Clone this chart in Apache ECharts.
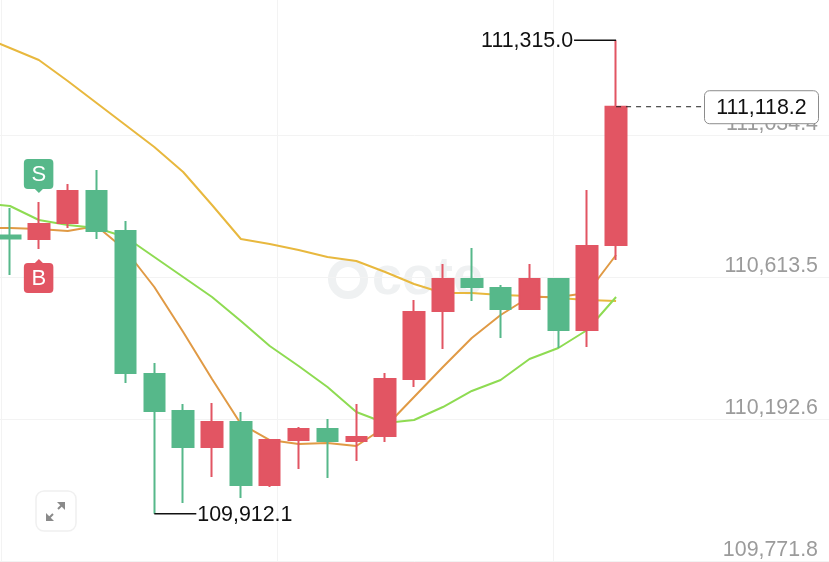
<!DOCTYPE html>
<html>
<head>
<meta charset="utf-8">
<script src="https://cdn.jsdelivr.net/npm/echarts@6/dist/echarts.min.js"></script>
<style>
html,body{margin:0;padding:0;background:#fff;}
#main{width:829px;height:562px;}
</style>
</head>
<body>
<div id="main"></div>
<script>
// bar numbers, the first line point sits one bar before the first candle
var bars = [0,1,2,3,4,5,6,7,8,9,10,11,12,13,14,15,16,17,18,19,20,21];
var lineBars = [-1,0,1,2,3,4,5,6,7,8,9,10,11,12,13,14,15,16,17,18,19,20,21];

// open, close, low, high
var candles = [
    [110736.5,110727.6,110619.5,110818.0],
    [110726.2,110770.6,110696.5,110835.8],
    [110773.6,110868.4,110758.8,110889.2],
    [110868.4,110749.9,110726.2,110930.7],
    [110749.9,110329.0,110299.4,110779.5],
    [110326.1,110216.4,109912.1,110358.7],
    [110216.4,110109.7,109943.7,110237.1],
    [110109.7,110183.8,110020.8,110240.1],
    [110183.8,109997.1,109958.5,110213.4],
    [109997.1,110130.4,109991.1,110130.4],
    [110130.4,110163.0,110044.5,110169.0],
    [110163.0,110127.5,110017.8,110192.7],
    [110127.5,110139.3,110068.2,110237.1],
    [110142.3,110311.2,110124.5,110329.0],
    [110311.2,110509.8,110287.5,110545.4],
    [110512.8,110607.6,110400.1,110652.1],
    [110607.6,110583.9,110542.4,110699.5],
    [110580.9,110518.7,110432.7,110589.8],
    [110518.7,110607.6,110515.7,110652.1],
    [110607.6,110456.5,110403.1,110607.6],
    [110456.5,110705.4,110406.1,110871.4],
    [110708.4,111118.2,110663.9,111315.0]
];

var maSlow = [111327.8,111292.2,111256.7,111194.4,111129.2,111064.0,110998.8,110924.7,110826.9,110726.2,110711.3,110693.6,110672.8,110661.0,110628.4,110592.8,110566.1,110566.1,110560.2,110557.2,110551.3,110545.4,110542.4];
var maFast = [110758.8,110758.8,110755.8,110749.9,110764.7,110693.6,110583.9,110450.5,110311.2,110177.9,110130.4,110118.6,110121.5,110112.7,110169.0,110257.9,110346.8,110432.7,110500.9,110554.3,110554.3,110566.1,110678.7];
var maMid = [110832.9,110824.0,110782.5,110767.7,110758.8,110732.1,110672.8,110613.5,110554.3,110483.1,110409.0,110349.8,110287.5,110213.4,110180.8,110189.7,110228.2,110275.7,110308.3,110370.5,110403.1,110456.5,110554.3];

var yTicks = [109771.8,110192.6,110613.5,111034.4];
var xGridTicks = [-0.312,9.252,18.815];

var highMark = [21,111315.0];
var lowMark = [5,109912.1];
var lastPrice = [21,111118.2];
var sellMark = [1,110835.8];
var buyMark = [1,110696.5];

var RED = '#e25563', GREEN = '#56b88a';
var FONT = '"Liberation Sans", sans-serif';

function fmt(v){
    return v.toLocaleString('en-US',{minimumFractionDigits:1,maximumFractionDigits:1});
}

function zipBars(xs, ys){
    var out = [];
    for (var i = 0; i < xs.length; i++) {
        out.push([xs[i]].concat(ys[i]));
    }
    return out;
}

function renderMarks(params, api){
    var kind = api.value(2);
    var p = api.coord([api.value(0), api.value(1)]);
    var x = p[0], y = p[1];
    if (kind == 0 || kind == 1){
        var dir = kind == 0 ? -1 : 1;
        return {type:'group',children:[
            {type:'line',shape:{x1:x,y1:y,x2:x+dir*42,y2:y},style:{stroke:'#111',lineWidth:1.5}},
            {type:'text',style:{x:x+dir*43,y:y+1,text:fmt(api.value(1)),fill:'#111',font:'21.4px '+FONT,
                align:kind == 0 ? 'right' : 'left',verticalAlign:'middle'}}
        ]};
    }
    if (kind == 2){
        return {type:'group',children:[
            {type:'line',shape:{x1:x,y1:y,x2:702,y2:y},style:{stroke:'#222',lineWidth:1,lineDash:[5,5]}},
            {type:'rect',shape:{x:704.5,y:y-16,width:114,height:33,r:5},style:{fill:'#fff',stroke:'#8c8c8c',lineWidth:1}},
            {type:'text',style:{x:761.5,y:y+1,text:fmt(api.value(1)),fill:'#111',font:'21.4px '+FONT,align:'center',verticalAlign:'middle'}}
        ]};
    }
    // buy and sell flags
    var isSell = kind == 3;
    var color = isSell ? GREEN : RED;
    var top = isSell ? y-43 : y+14;
    var tipY = isSell ? top+30 : top;
    var tipDir = isSell ? 4 : -4;
    return {type:'group',children:[
        {type:'rect',shape:{x:x-15,y:top,width:29.5,height:30,r:4},style:{fill:color}},
        {type:'polygon',shape:{points:[[x-4,tipY],[x+4,tipY],[x,tipY+tipDir]]},style:{fill:color}},
        {type:'text',style:{x:x,y:top+16,text:isSell ? 'S' : 'B',fill:'#fff',font:'22px '+FONT,align:'center',verticalAlign:'middle'}}
    ]};
}

var chart = echarts.init(document.getElementById('main'));
var lineBase = {type:'line',symbol:'none',smooth:false,z:1,silent:true};

var option = {
    animation:false,
    backgroundColor:'#fff',
    grid:{left:0,right:0,top:0,bottom:0},
    graphic:[
        {type:'circle',shape:{cx:348,cy:279,r:16},style:{fill:'none',stroke:'#eff1f2',lineWidth:8},z:0},
        {type:'text',style:{x:372,y:252,text:'cote',fill:'#eff1f2',font:'bold 54px '+FONT},z:0},
        {type:'rect',shape:{x:36,y:491,width:40,height:40,r:8},style:{fill:'#fff',stroke:'#f0f0f0',lineWidth:1.5},z:10},
        {type:'polygon',shape:{points:[[57,502],[65,502],[65,510]]},style:{fill:'#8a8a8a'},z:11},
        {type:'polygon',shape:{points:[[46,513],[46,521],[54,521]]},style:{fill:'#8a8a8a'},z:11},
        {type:'line',shape:{x1:58,y1:509,x2:62,y2:505},style:{stroke:'#8a8a8a',lineWidth:2},z:11},
        {type:'line',shape:{x1:49,y1:518,x2:53,y2:514},style:{stroke:'#8a8a8a',lineWidth:2},z:11}
    ],
    xAxis:{
        type:'value',min:-0.3465,max:28.378,
        axisLine:{show:false},axisLabel:{show:false},
        axisTick:{show:false,customValues:xGridTicks},
        splitLine:{show:true,lineStyle:{color:'#f3f3f3',width:1}}
    },
    yAxis:{
        type:'value',position:'right',min:109768.9,max:111434.5,
        axisLine:{show:false},
        axisTick:{show:false,customValues:yTicks},
        splitLine:{show:true,lineStyle:{color:'#f3f3f3',width:1}},
        axisLabel:{inside:true,customValues:yTicks,margin:11,color:'#9b9b9b',fontFamily:FONT,fontSize:21.4,
            verticalAlign:'bottom',lineHeight:21,formatter:function(v){return fmt(v);}}
    },
    series:[
        Object.assign({},lineBase,{data:zipBars(lineBars,maSlow),lineStyle:{color:'#e8b83e',width:2}}),
        Object.assign({},lineBase,{data:zipBars(lineBars,maFast),lineStyle:{color:'#e09a45',width:2}}),
        Object.assign({},lineBase,{data:zipBars(lineBars,maMid),lineStyle:{color:'#8edb52',width:2}}),
        {type:'candlestick',data:zipBars(bars,candles),encode:{x:0,y:[1,2,3,4]},barWidth:21,z:2,silent:true,
            itemStyle:{color:RED,color0:GREEN,borderColor:RED,borderColor0:GREEN,borderWidth:2}},
        {type:'custom',renderItem:renderMarks,z:5,silent:true,clip:false,
            data:[
                [highMark[0],highMark[1],0],
                [lowMark[0],lowMark[1],1],
                [lastPrice[0],lastPrice[1],2],
                [sellMark[0],sellMark[1],3],
                [buyMark[0],buyMark[1],4]
            ]}
    ]
};
chart.setOption(option);
</script>
</body>
</html>
